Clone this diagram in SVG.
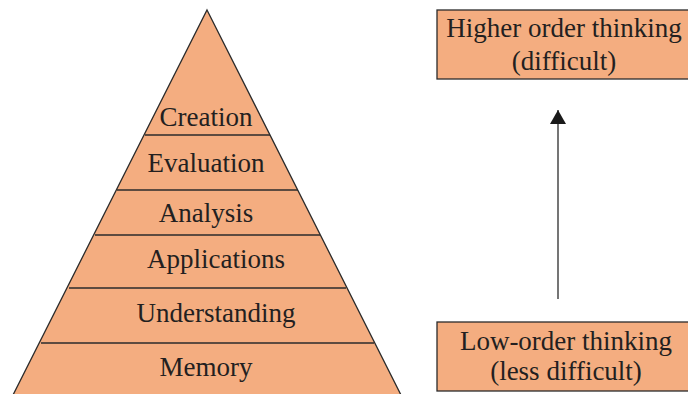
<svg xmlns="http://www.w3.org/2000/svg" width="688" height="394" viewBox="0 0 688 394">
  <style>
    .shape { fill: #f4ad80; stroke: #2b2b2b; stroke-width: 1.3; }
    .tier { stroke: #2b2b2b; stroke-width: 1.3; }
    .label { font-family: "Liberation Serif", "Times New Roman", serif; font-size: 27px; fill: #231f20; text-anchor: middle; }
    .conn { stroke: #2b2b2b; stroke-width: 1.3; fill: none; }
  </style>
  <defs>
    <marker id="arrowhead" viewBox="0 0 14 16" refX="14" refY="8" markerWidth="14" markerHeight="16" markerUnits="userSpaceOnUse" orient="auto">
      <path d="M0,0 L14,8 L0,16 Z" fill="#1a1a1a"/>
    </marker>
  </defs>
  <rect width="688" height="394" fill="#ffffff"/>

  <!-- Pyramid of thinking levels -->
  <g id="pyramid">
    <polygon class="shape" points="207,10 402,397 12,397"/>
    <line class="tier" x1="145" y1="135" x2="270" y2="135"/>
    <line class="tier" x1="117" y1="190" x2="298" y2="190"/>
    <line class="tier" x1="95" y1="235" x2="320" y2="235"/>
    <line class="tier" x1="69" y1="288" x2="346" y2="288"/>
    <line class="tier" x1="41" y1="343" x2="374" y2="343"/>
  </g>
  <g id="creation"><text class="label" x="206" y="126">Creation</text></g>
  <g id="evaluation"><text class="label" x="206" y="172">Evaluation</text></g>
  <g id="analysis"><text class="label" x="206" y="222">Analysis</text></g>
  <g id="applications"><text class="label" x="216" y="268">Applications</text></g>
  <g id="understanding"><text class="label" x="216" y="322">Understanding</text></g>
  <g id="memory"><text class="label" x="206" y="376">Memory</text></g>

  <!-- Difficulty scale -->
  <g id="higher-order">
    <rect class="shape" x="437" y="10" width="252" height="69"/>
    <text class="label" x="564" y="37">Higher order thinking</text>
    <text class="label" x="564" y="70">(difficult)</text>
  </g>
  <g id="low-order">
    <rect class="shape" x="437" y="322" width="252" height="69"/>
    <text class="label" x="566" y="350">Low-order thinking</text>
    <text class="label" x="566" y="380">(less difficult)</text>
  </g>

  <g id="connectors">
    <line class="conn" x1="558" y1="299" x2="558" y2="110" marker-end="url(#arrowhead)"/>
  </g>
</svg>
